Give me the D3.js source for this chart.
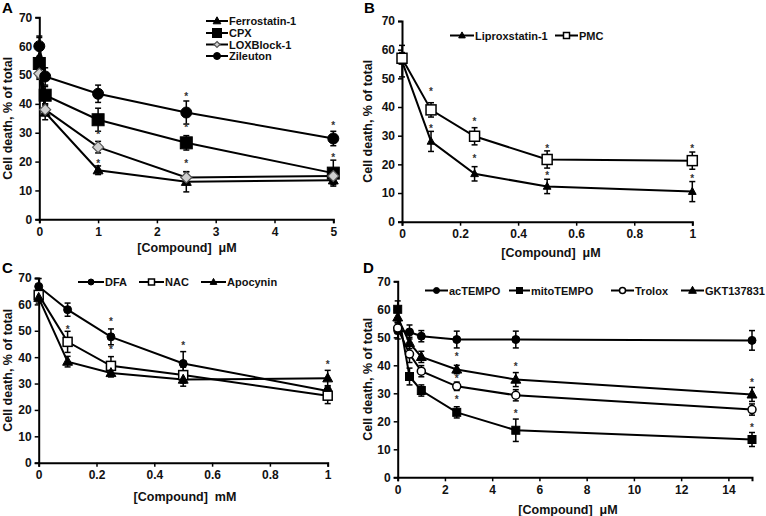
<!DOCTYPE html>
<html><head><meta charset="utf-8">
<script src="https://cdn.jsdelivr.net/npm/d3@7"></script>
<style>body{margin:0;background:#fff}svg{display:block}text{font-family:"Liberation Sans",Arial,sans-serif;font-weight:bold}</style>
</head><body><svg id="c" width="766" height="516"></svg>
<script>
// ---- Panel A ----
const xA = [0, 0.1, 1, 2.5, 5];
const ferrostatin = [56, 37, 17, 13, 13.5];
const ferrostatinErr = [7, 2.5, 1.5, 3.5, 1.5];
const cpx = [54, 43, 34.5, 26.5, 16];
const cpxErr = [2, 3, 4, 2.5, 4.5];
const loxblock = [50.5, 38, 25, 14.5, 15];
const loxblockErr = [2, 2, 2, 2, 2];
const zileuton = [60, 49.5, 43.5, 37, 28];
const zileutonErr = [3.5, 3, 3, 4, 2.5];
const starsA = [[1, 20], [1, 30], [2.5, 20], [2.5, 32.5], [2.5, 43], [5, 22], [5, 33]];
const xTicksA = [0, 1, 2, 3, 4, 5];

// ---- Panel B ----
const xB = [0, 0.1, 0.25, 0.5, 1];
const liproxstatin = [56, 28, 16.7, 12.3, 10.5];
const liproxstatinErr = [5.5, 3.5, 2.5, 2.5, 3.5];
const pmc = [57, 39, 29.8, 21.7, 21.3];
const pmcErr = [2, 2.5, 3, 3, 3];
const starsB = [[0.1, 46], [0.1, 33], [0.25, 35.5], [0.25, 22.5], [0.5, 26], [0.5, 16.5], [1, 26], [1, 15.5]];
const xTicksB = [0, 0.2, 0.4, 0.6, 0.8, 1];

// ---- Panel C ----
const xC = [0, 0.1, 0.25, 0.5, 1];
const dfa = [66.8, 58, 47.7, 37.6, 27.2];
const dfaErr = [3, 2.5, 3, 4.5, 2];
const nac = [63.6, 45.8, 36.7, 33.2, 25.4];
const nacErr = [2, 4, 3.5, 3, 3];
const apocynin = [62.5, 38.3, 34, 31.5, 32];
const apocyninErr = [2, 2, 1.5, 2.5, 3];
const starsC = [[0.1, 51], [0.25, 54], [0.25, 43.4], [0.5, 45], [1, 37.8]];
const xTicksC = [0, 0.2, 0.4, 0.6, 0.8, 1];

// ---- Panel D ----
const xD = [0, 0.5, 1, 2.5, 5, 15];
const actempo = [52.4, 51.9, 50.4, 49.2, 49.2, 48.9];
const actempoErr = [3, 2.5, 2, 3, 3, 3.5];
const mitotempo = [60, 36, 31, 23.2, 16.8, 13.5];
const mitotempoErr = [3, 3, 2, 2, 4, 2.5];
const trolox = [53.3, 44, 37.9, 32.5, 29.3, 24.2];
const troloxErr = [2, 3, 2, 1.5, 2, 2];
const gkt = [57.1, 48, 43, 38.5, 34.9, 29.6];
const gktErr = [2, 2, 2, 1.5, 2.5, 2.5];
const starsD = [[2.5, 43.8], [2.5, 36], [2.5, 28.3], [5, 40.2], [5, 23.3], [15, 34.5], [15, 18.2]];
const xTicksD = [0, 2, 4, 6, 8, 10, 12, 14];

const yTicks = [0, 10, 20, 30, 40, 50, 60, 70];
const yTitle = "Cell death, % of total";

const svg = d3.select("#c");

function marker(g, type, size, cx, cy) {
  const s = size;
  if (type === "tri") {
    g.append("path").attr("d", `M${cx},${cy - s * 0.6}L${cx + s * 0.55},${cy + s * 0.4}L${cx - s * 0.55},${cy + s * 0.4}Z`)
      .attr("fill", "#000").attr("stroke", "#000").attr("stroke-width", 1);
  } else if (type === "sq" || type === "osq") {
    g.append("rect").attr("x", cx - s / 2).attr("y", cy - s / 2).attr("width", s).attr("height", s)
      .attr("fill", type === "sq" ? "#000" : "#fff").attr("stroke", "#000").attr("stroke-width", type === "sq" ? 1 : 1.5);
  } else if (type === "dia") {
    g.append("path").attr("d", `M${cx},${cy - s / 2}L${cx + s / 2},${cy}L${cx},${cy + s / 2}L${cx - s / 2},${cy}Z`)
      .attr("fill", "#d0d0d0").attr("stroke", "#555").attr("stroke-width", 1.2);
  } else if (type === "circ" || type === "ocirc") {
    g.append("circle").attr("cx", cx).attr("cy", cy).attr("r", s / 2)
      .attr("fill", type === "circ" ? "#000" : "#fff").attr("stroke", "#000").attr("stroke-width", type === "circ" ? 1 : 1.5);
  }
}

function panel(cfg) {
  const x = d3.scaleLinear().domain(cfg.xDomain).range([cfg.x0, cfg.x1]);
  const y = d3.scaleLinear().domain([0, 70]).range([cfg.yB, cfg.yT]);
  const g = svg.append("g");
  const ya = g.append("g").attr("transform", `translate(${cfg.x0},0)`)
    .call(d3.axisLeft(y).tickValues(yTicks).tickSize(4).tickPadding(3).tickFormat(d3.format("d")));
  const xa = g.append("g").attr("transform", `translate(0,${cfg.yB})`)
    .call(d3.axisBottom(x).tickValues(cfg.xTicks).tickSize(4).tickPadding(4).tickFormat(d => d3.format("")(d)));
  [ya, xa].forEach(a => {
    a.selectAll("path").attr("stroke", "#000").attr("stroke-width", 2);
    a.selectAll("line").attr("stroke", "#000").attr("stroke-width", 1.5);
    a.selectAll("text").attr("font-size", 12).attr("fill", "#111").attr("font-family", "Liberation Sans, Arial").attr("font-weight", "bold");
  });
  const line = d3.line().x((d, i) => x(cfg.xs[i])).y(d => y(d));
  cfg.series.forEach(s => {
    g.append("path").attr("d", line(s.v)).attr("fill", "none").attr("stroke", "#000").attr("stroke-width", 2);
  });
  cfg.series.forEach(s => {
    s.v.forEach((v, i) => {
      const cx = x(cfg.xs[i]);
      const e = s.e[i];
      const y1 = y(v - e), y2 = y(v + e);
      g.append("line").attr("x1", cx).attr("x2", cx).attr("y1", y1).attr("y2", y2).attr("stroke", "#000").attr("stroke-width", 1.5);
      [y1, y2].forEach(yy => g.append("line").attr("x1", cx - 3).attr("x2", cx + 3).attr("y1", yy).attr("y2", yy).attr("stroke", "#000").attr("stroke-width", 1.5));
    });
  });
  cfg.series.forEach(s => {
    s.v.forEach((v, i) => marker(g, s.m, s.size, x(cfg.xs[i]), y(v)));
  });
  cfg.stars.forEach(([sx, sy]) => {
    g.append("text").attr("x", x(sx)).attr("y", y(sy) + 5).attr("text-anchor", "middle")
      .attr("font-size", 10).attr("font-weight", "normal").attr("fill", "#333").text("*");
  });
  g.append("text").attr("x", cfg.xtx).attr("y", cfg.xty).attr("text-anchor", "middle").attr("font-size", 12.5).attr("fill", "#111").text(cfg.xTitle);
  g.append("text").attr("transform", `translate(${cfg.ytx},${(cfg.yT + cfg.yB) / 2}) rotate(-90)`).attr("text-anchor", "middle")
    .attr("dy", "0.35em").attr("font-size", 12.5).attr("fill", "#111").text(yTitle);
  g.append("text").attr("x", cfg.lx).attr("y", cfg.ly).attr("font-size", 15).attr("fill", "#000").text(cfg.label);
  cfg.legend.forEach(L => {
    const len = L.len || 24;
    g.append("line").attr("x1", L.x).attr("x2", L.x + len).attr("y1", L.y).attr("y2", L.y).attr("stroke", "#000").attr("stroke-width", 2);
    const s = cfg.series[L.i];
    marker(g, s.m, L.size, L.x + len / 2, L.y);
    g.append("text").attr("x", L.x + len + 1).attr("y", L.y + 4).attr("font-size", 11).attr("fill", "#111").text(s.name);
  });
}

panel({
  label: "A", lx: 2, ly: 13, x0: 39.3, x1: 333.3, yT: 17.3, yB: 219.3, xDomain: [0, 5], xs: xA, xTicks: xTicksA,
  xTitle: "[Compound]\u00a0 \u03bcM", xtx: 187, xty: 252, ytx: 8,
  series: [
    {name: "Ferrostatin-1", v: ferrostatin, e: ferrostatinErr, m: "tri", size: 9},
    {name: "CPX", v: cpx, e: cpxErr, m: "sq", size: 12},
    {name: "LOXBlock-1", v: loxblock, e: loxblockErr, m: "dia", size: 11},
    {name: "Zileuton", v: zileuton, e: zileutonErr, m: "circ", size: 11},
  ],
  stars: starsA,
  legend: [{i: 0, x: 206, y: 21, size: 7, len: 22}, {i: 1, x: 206, y: 33, size: 9, len: 22}, {i: 2, x: 206, y: 44.5, size: 6, len: 22}, {i: 3, x: 206, y: 56, size: 7, len: 22}]
});

panel({
  label: "B", lx: 364, ly: 13, x0: 402, x1: 692.3, yT: 21, yB: 221.7, xDomain: [0, 1], xs: xB, xTicks: xTicksB,
  xTitle: "[Compound]\u00a0 \u03bcM", xtx: 551, xty: 257, ytx: 368,
  series: [
    {name: "Liproxstatin-1", v: liproxstatin, e: liproxstatinErr, m: "tri", size: 7},
    {name: "PMC", v: pmc, e: pmcErr, m: "osq", size: 10},
  ],
  stars: starsB,
  legend: [{i: 0, x: 450, y: 35.5, size: 6, len: 24}, {i: 1, x: 555, y: 35.5, size: 6, len: 23}]
});

panel({
  label: "C", lx: 2, ly: 273, x0: 38.7, x1: 327.7, yT: 278, yB: 462.7, xDomain: [0, 1], xs: xC, xTicks: xTicksC,
  xTitle: "[Compound]\u00a0 mM", xtx: 185, xty: 501, ytx: 8,
  series: [
    {name: "DFA", v: dfa, e: dfaErr, m: "circ", size: 8},
    {name: "NAC", v: nac, e: nacErr, m: "osq", size: 9},
    {name: "Apocynin", v: apocynin, e: apocyninErr, m: "tri", size: 9},
  ],
  stars: starsC,
  legend: [{i: 0, x: 78, y: 282, size: 6, len: 26}, {i: 1, x: 139, y: 282, size: 6, len: 25}, {i: 2, x: 201, y: 282, size: 6, len: 25}]
});

panel({
  label: "D", lx: 363, ly: 273, x0: 397.7, x1: 752, yT: 281.3, yB: 477.3, xDomain: [0, 15], xs: xD, xTicks: xTicksD,
  xTitle: "[Compound]\u00a0 \u03bcM", xtx: 568, xty: 514, ytx: 368,
  series: [
    {name: "acTEMPO", v: actempo, e: actempoErr, m: "circ", size: 8},
    {name: "mitoTEMPO", v: mitotempo, e: mitotempoErr, m: "sq", size: 8},
    {name: "Trolox", v: trolox, e: troloxErr, m: "ocirc", size: 8},
    {name: "GKT137831", v: gkt, e: gktErr, m: "tri", size: 9},
  ],
  stars: starsD,
  legend: [{i: 0, x: 425, y: 290.5, size: 6, len: 23}, {i: 1, x: 509, y: 290.5, size: 6, len: 21}, {i: 2, x: 611, y: 290.5, size: 6, len: 23}, {i: 3, x: 681, y: 290.5, size: 7, len: 23}]
});
</script></body></html>
